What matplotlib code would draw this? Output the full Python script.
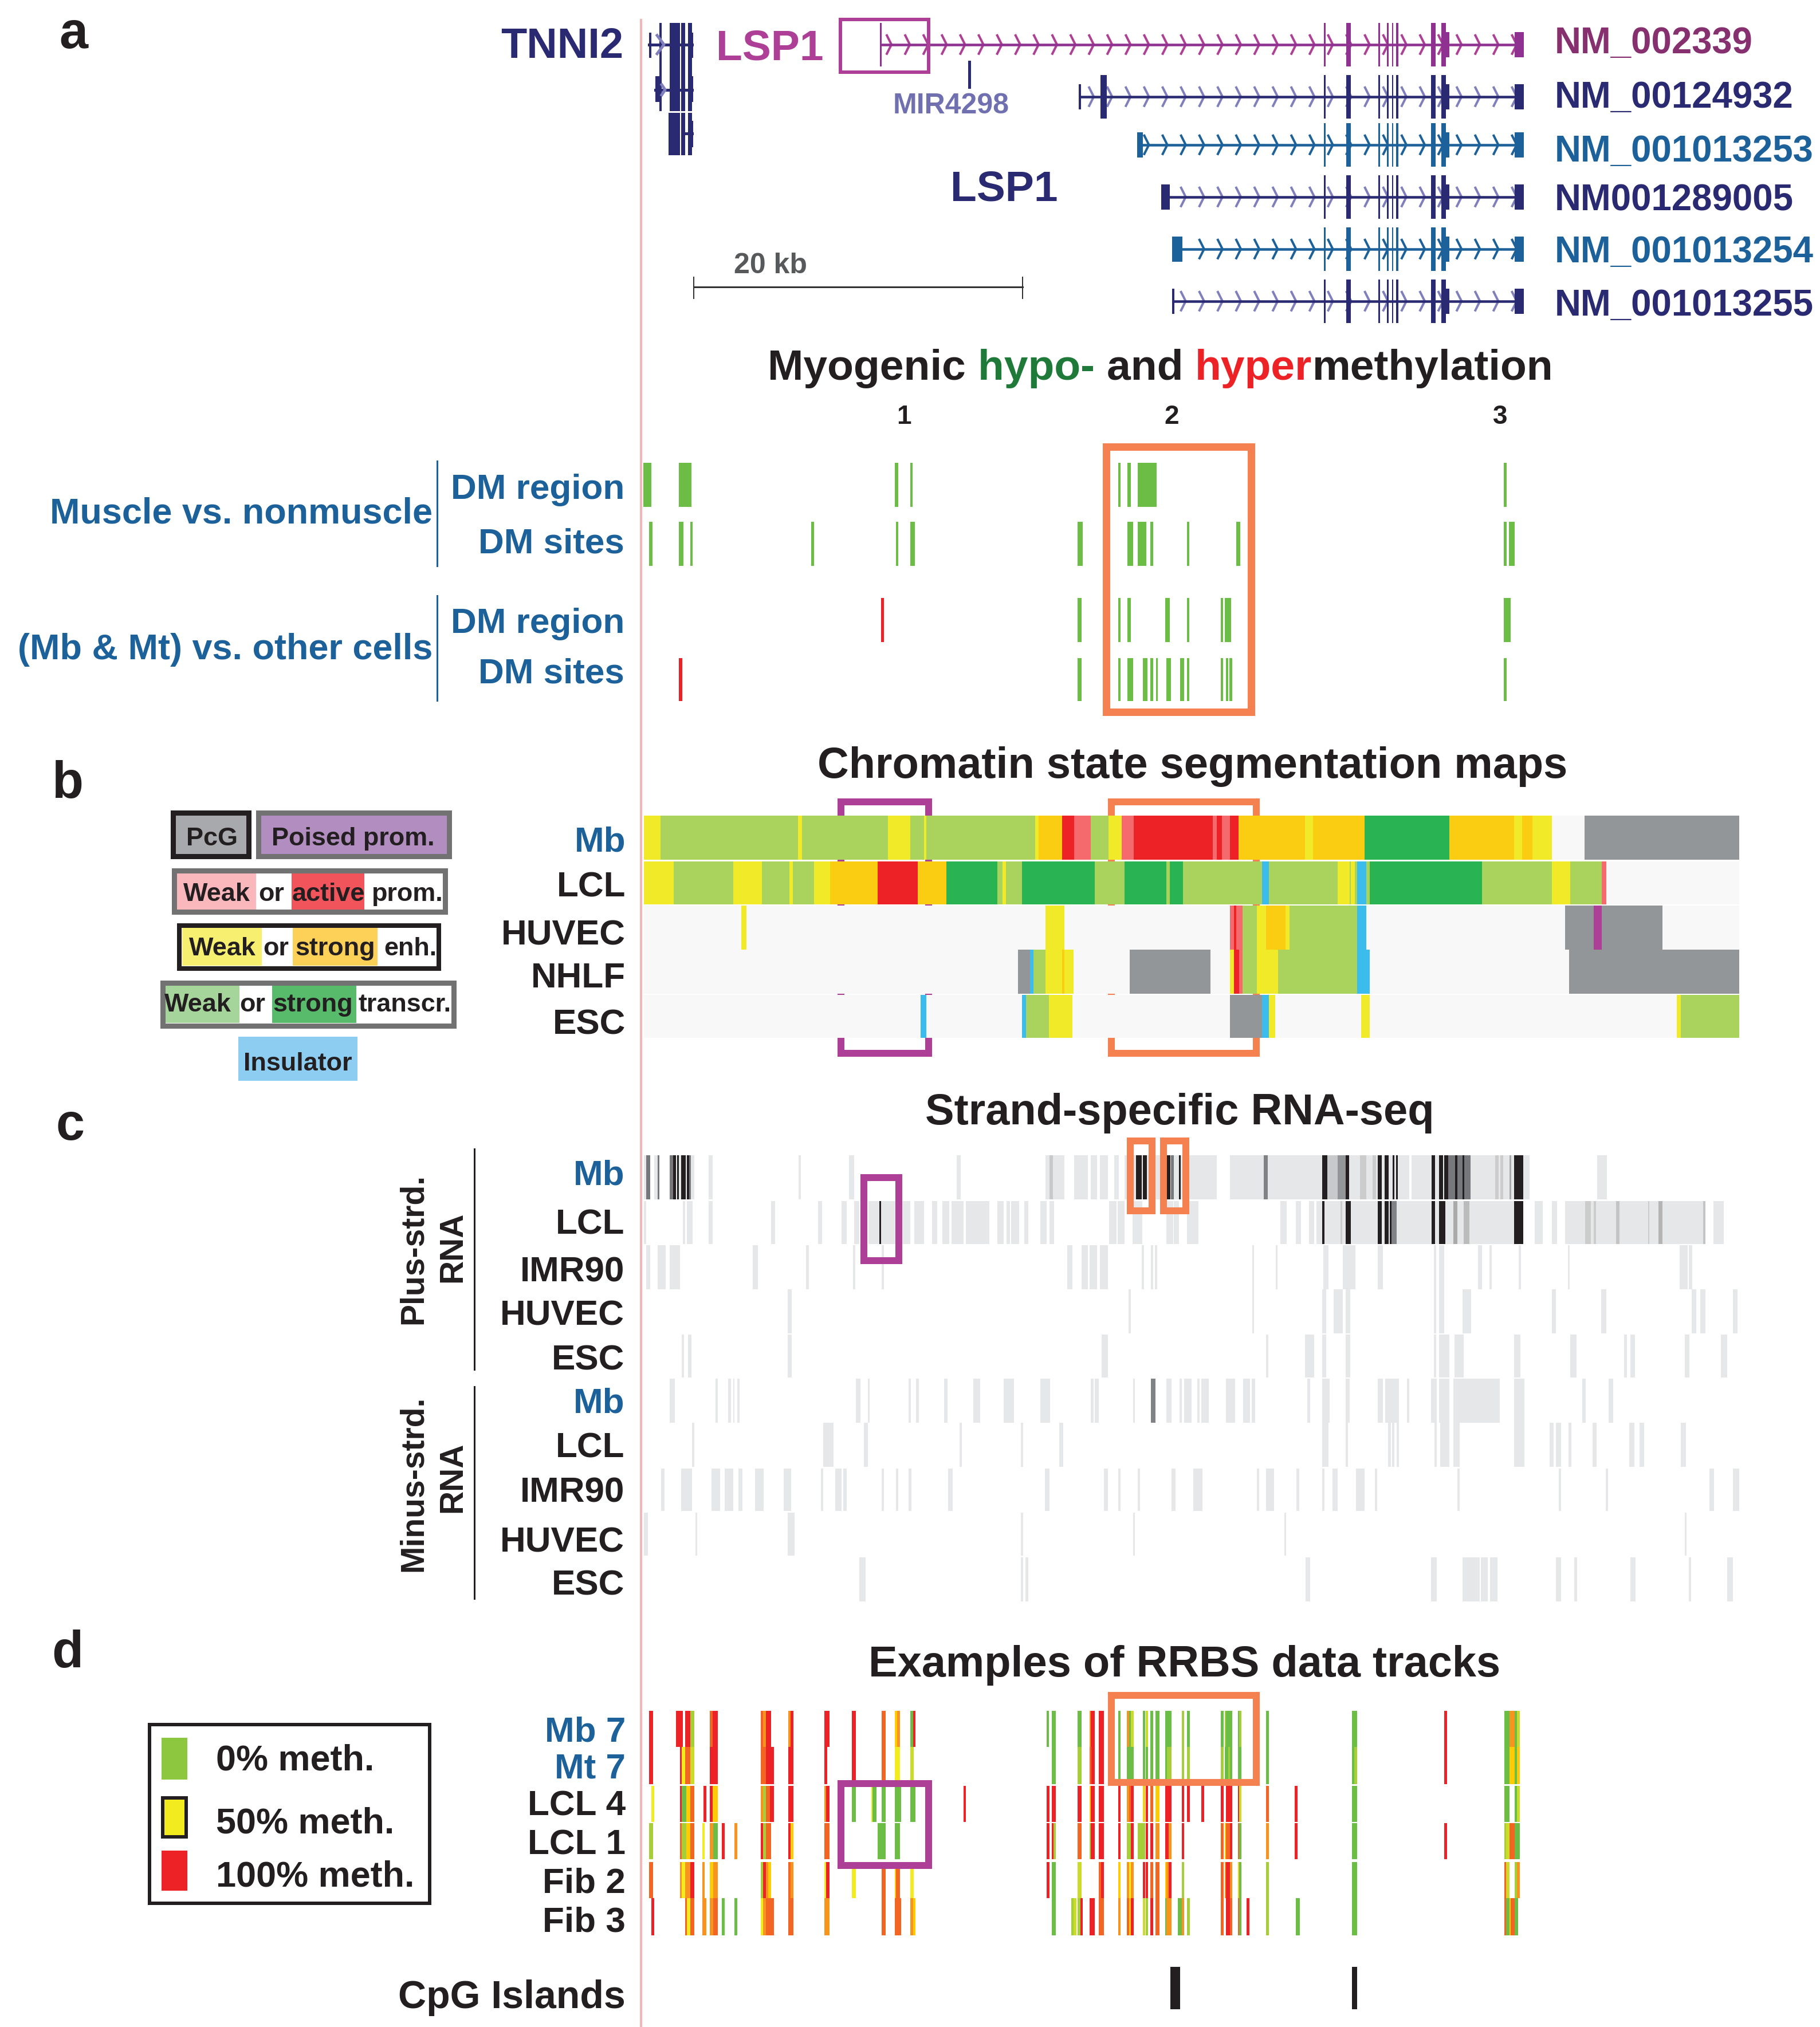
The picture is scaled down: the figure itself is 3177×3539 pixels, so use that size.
import numpy as np
import matplotlib
matplotlib.use("Agg")
import matplotlib.pyplot as plt
from matplotlib.patches import Rectangle

plt.rcParams['font.family'] = ['Liberation Sans', 'DejaVu Sans']

NAVY, PURPLE, BLUE, WINE = '#2a2a72', '#ae3f96', '#1c6199', '#86306f'
INK, ORANGE_BOX, GREEN, RED = '#231f20', '#f58050', '#6cbd45', '#ed2227'

# ---------- a: gene models ----------
gene_names = ['NM_002339', 'NM_00124932', 'NM_001013253', 'NM001289005', 'NM_001013254', 'NM_001013255']
gene_colors = [WINE, NAVY, BLUE, NAVY, BLUE, NAVY]
gene_line = ['#8f3190', NAVY, BLUE, NAVY, BLUE, NAVY]
gene_chev = [PURPLE, '#7f7fbd', BLUE, '#7f7fbd', BLUE, '#7f7fbd']
gene_mid = [78, 169, 253, 344, 435, 526]
gene_label_y = [70, 165, 259, 345, 435, 528]
gene_start = [(1536, 1539), (1883, 1887), (1985, 1995), (2027, 2042), (2046, 2064), (2046, 2050)]
gene_extra = [None, (1921, 1932), None, None, None, None]
shared_exons = [(2311, 2314), (2350, 2358), (2406, 2409), (2421, 2424), (2430, 2432), (2437, 2441), (2498, 2506), (2516, 2524)]
shared_utr = [(2516, 2530), (2644, 2660)]

tnni2_a = [(1151, 1155), (1169, 1187), (1189, 1196), (1201, 1208)]
tnni2_c = [(1167, 1187), (1189, 1196), (1201, 1208)]

# ---------- a: differential methylation ----------
dm_muscle_region = [(1123, 1137), (1185, 1207), (1562, 1568), (1589, 1593), (1952, 1956), (1968, 1974), (1986, 2019), (2625, 2630)]
dm_muscle_sites = [(1133, 1139), (1185, 1193), (1205, 1209), (1416, 1421), (1564, 1568), (1589, 1597), (1881, 1890),
                   (1968, 1978), (1986, 2001), (2008, 2013), (2072, 2076), (2158, 2165), (2625, 2630), (2634, 2644)]
dm_cells_region = [(1881, 1888), (1952, 1956), (1968, 1974), (2034, 2042), (2072, 2076), (2131, 2135), (2138, 2149), (2625, 2637)]
dm_cells_region_hyper = [(1538, 1543)]
dm_cells_sites = [(1881, 1888), (1952, 1956), (1968, 1978), (1995, 2003), (2008, 2013), (2018, 2021), (2036, 2044),
                  (2060, 2067), (2072, 2076), (2131, 2135), (2140, 2144), (2146, 2151), (2625, 2630)]
dm_cells_sites_hyper = [(1185, 1191)]

# ---------- b: chromatin states ----------
state_colors = {'Y': '#f0ea28', 'G': '#aad35d', 'O': '#facd12', 'R': '#ed2227', 'P': '#f46a6d', 'D': '#2ab352',
                'K': '#939699', 'B': '#3bbced', 'E': '#f8f8f8', 'M': '#ae3f96'}
mb_edges = [1124, 1153, 1393, 1400, 1550, 1589, 1613, 1617, 1807, 1813, 1854, 1875, 1904, 1935, 1958, 1979, 2117, 2124, 2133,
            2147, 2162, 2278, 2292, 2382, 2530, 2643, 2657, 2675, 2709, 2766, 3036]
mb_states = list('YGYGYGYGYORPGYPRPRPROYODOYOYEK')
lcl_edges = [1124, 1176, 1280, 1330, 1378, 1384, 1421, 1449, 1532, 1602, 1652, 1741, 1750, 1756, 1784, 1911, 1963, 2036, 2042,
             2065, 2203, 2215, 2335, 2356, 2358, 2365, 2369, 2385, 2391, 2587, 2709, 2741, 2796, 2804, 3036]
lcl_states = list('YGYGYGYORODGYGDGDGDGBGYGYGBGDGYGPE')
huvec_spans = [(1294, 1303, 'Y'), (1825, 1858, 'Y'), (2147, 2154, 'P'), (2154, 2158, 'R'), (2158, 2169, 'P'), (2169, 2194, 'G'),
               (2194, 2210, 'Y'), (2210, 2244, 'O'), (2244, 2251, 'Y'), (2251, 2369, 'G'), (2369, 2385, 'B'),
               (2732, 2782, 'K'), (2782, 2796, 'M'), (2796, 2902, 'K')]
nhlf_spans = [(1777, 1798, 'K'), (1798, 1804, 'B'), (1804, 1825, 'G'), (1825, 1854, 'Y'), (1854, 1858, 'O'), (1858, 1874, 'Y'),
              (1972, 2113, 'K'), (2147, 2154, 'Y'), (2154, 2163, 'R'), (2163, 2169, 'P'), (2169, 2194, 'G'), (2194, 2231, 'Y'),
              (2231, 2369, 'G'), (2369, 2391, 'B'), (2739, 3036, 'K')]
esc_spans = [(1607, 1617, 'B'), (1784, 1791, 'B'), (1791, 1831, 'G'), (1831, 1872, 'Y'), (2147, 2203, 'K'), (2203, 2215, 'B'),
             (2215, 2226, 'Y'), (2376, 2391, 'Y'), (2927, 2934, 'Y'), (2934, 3036, 'G')]

# ---------- c: RNA-seq, plus strand ----------
LIGHT = '#e6e7e8'
mbp_light = [(1124, 1135), (1142, 1151), (1169, 1212), (1237, 1244), (1394, 1398), (1482, 1491), (1670, 1677), (1825, 1858),
             (1875, 1899), (1904, 1915), (1920, 1934), (1945, 1953), (1963, 1974), (1977, 2124), (2147, 2460), (2464, 2670), (2788, 2805)]
mbp_mid = [(1128, 1135, '#77787b'), (1148, 1151, '#77787b'), (1169, 1175, '#77787b'), (1199, 1206, '#77787b'), (1832, 1838, '#c8c9cb'),
           (2044, 2049, '#77787b'), (2206, 2213, '#808285'), (2317, 2335, '#c8c9cb'), (2335, 2349, '#939598'), (2374, 2385, '#cccccc'),
           (2396, 2402, '#cccccc'), (2528, 2567, '#77787b'), (2610, 2616, '#cccccc'), (2619, 2624, '#cccccc'), (2635, 2638, '#aaaaaa')]
mbp_dark = [(1175, 1180), (1182, 1185), (1189, 1197), (1199, 1203), (1983, 1993), (1995, 2002), (2036, 2043), (2058, 2061), (2308, 2317),
            (2349, 2355), (2405, 2412), (2417, 2424), (2431, 2434), (2437, 2440), (2499, 2505), (2512, 2519), (2521, 2528), (2540, 2544),
            (2553, 2556), (2643, 2659)]
lclp_light = [(1124, 1128), (1192, 1196), (1199, 1209), (1237, 1244), (1346, 1353), (1428, 1435), (1469, 1478), (1491, 1500), (1516, 1589),
              (1596, 1613), (1627, 1636), (1645, 1657), (1661, 1682), (1686, 1727), (1741, 1752), (1757, 1763), (1765, 1779), (1788, 1795),
              (1816, 1827), (1832, 1840), (1936, 1949), (1951, 1963), (1977, 1994), (2036, 2048), (2049, 2058), (2072, 2092), (2235, 2246),
              (2262, 2271), (2285, 2294), (2298, 2659), (2679, 2693), (2709, 2718), (2732, 2977), (2991, 3009)]
lclp_mid = [(2340, 2343, '#cccccc'), (2426, 2438, '#808285'), (2537, 2544, '#aaaaaa'), (2555, 2565, '#bbbbbb'), (2767, 2777, '#cccccc'),
            (2782, 2786, '#cccccc'), (2821, 2827, '#c4c4c4'), (2877, 2879, '#cccccc'), (2895, 2902, '#b5b5b5'), (2973, 2977, '#c4c4c4')]
lclp_dark = [(1535, 1538), (2308, 2312), (2349, 2358), (2405, 2412), (2417, 2424), (2426, 2429), (2499, 2505), (2512, 2523), (2643, 2659)]
imrp_light = [(1128, 1135), (1148, 1162), (1169, 1187), (1314, 1323), (1407, 1412), (1489, 1493), (1539, 1543), (1863, 1872), (1888, 1899),
              (1902, 1915), (1920, 1934), (1993, 1997), (2009, 2013), (2016, 2020), (2186, 2189), (2227, 2230), (2310, 2319), (2344, 2366),
              (2405, 2414), (2503, 2507), (2512, 2521), (2580, 2587), (2600, 2604), (2651, 2655), (2737, 2740), (2932, 2946), (2948, 2954)]
huvp_light = [(1375, 1382), (1970, 1974), (2186, 2189), (2308, 2315), (2328, 2344), (2349, 2357), (2503, 2507), (2512, 2521), (2553, 2568),
              (2709, 2716), (2795, 2804), (2953, 2961), (2968, 2977), (3025, 3033)]
escp_light = [(1190, 1194), (1201, 1207), (1375, 1382), (1923, 1934), (2210, 2214), (2278, 2294), (2308, 2315), (2349, 2357), (2503, 2507),
              (2512, 2530), (2539, 2555), (2643, 2654), (2741, 2752), (2835, 2840), (2846, 2854), (2941, 2949), (3004, 3015)]

# ---------- c: RNA-seq, minus strand ----------
mbm_light = [(1169, 1178), (1249, 1253), (1271, 1276), (1280, 1282), (1287, 1291), (1494, 1502), (1515, 1518), (1586, 1590), (1599, 1604),
             (1648, 1654), (1699, 1711), (1752, 1770), (1816, 1833), (1904, 1909), (1911, 1918), (1978, 1981), (2036, 2045), (2059, 2063),
             (2067, 2080), (2090, 2094), (2097, 2110), (2140, 2156), (2170, 2182), (2185, 2191), (2282, 2287), (2308, 2321), (2349, 2356),
             (2405, 2414), (2418, 2442), (2456, 2460), (2498, 2508), (2512, 2530), (2537, 2618), (2643, 2661), (2762, 2768), (2808, 2816)]
mbm_mid = [(2009, 2017, '#808285')]
lclm_light = [(1208, 1212), (1437, 1455), (1508, 1515), (1675, 1679), (1782, 1786), (1849, 1856), (2308, 2319), (2349, 2353), (2423, 2428),
              (2430, 2434), (2438, 2442), (2504, 2508), (2514, 2530), (2537, 2548), (2643, 2661), (2705, 2712), (2716, 2725), (2738, 2743),
              (2780, 2787), (2844, 2853), (2862, 2870), (2934, 2943)]
imrm_light = [(1154, 1160), (1189, 1208), (1242, 1257), (1265, 1280), (1289, 1296), (1318, 1333), (1368, 1381), (1433, 1437), (1458, 1469),
              (1472, 1478), (1539, 1543), (1564, 1568), (1586, 1591), (1655, 1663), (1824, 1832), (1927, 1934), (1952, 1956), (1986, 1990),
              (2045, 2052), (2083, 2099), (2194, 2198), (2210, 2224), (2263, 2268), (2308, 2312), (2326, 2335), (2367, 2382), (2400, 2404),
              (2544, 2548), (2721, 2725), (2803, 2807), (2984, 2992), (3025, 3036)]
huvm_light = [(1124, 1131), (1214, 1217), (1375, 1387), (1782, 1786), (1978, 1981), (2242, 2245), (2941, 2944)]
escm_light = [(1500, 1511), (1782, 1786), (1790, 1795), (2279, 2287), (2498, 2508), (2553, 2583), (2585, 2597), (2601, 2614), (2716, 2725),
              (2748, 2753), (2846, 2855), (2948, 2952), (3015, 3025)]

# ---------- d: RRBS, (start, end, level) on two read-off scales, split at x = 2000 ----------
meth_colors = {'r': '#ed2227', 'o': '#f26522', 'a': '#f7941d', 'u': '#ffcb05', 'y': '#f1eb1f', 'c': '#cbdb2a', 'l': '#a6ce39', 'g': '#6cbd45'}
mb7_left = [(51, 62, 'r'), (125, 144, 'r'), (151, 165, 'r'), (165, 176, 'l'), (218, 225, 'o'), (225, 240, 'r'), (357, 364, 'o'), (364, 372, 'a'),
            (372, 385, 'r'), (432, 439, 'a'), (439, 446, 'r'), (532, 546, 'r'), (606, 617, 'r'), (688, 699, 'o'), (724, 731, 'u'), (731, 738, 'a'),
            (767, 774, 'g'), (774, 780, 'r'), (1140, 1146, 'g'), (1154, 1165, 'g'), (1225, 1236, 'g'), (1258, 1260, 'a'), (1260, 1272, 'r'),
            (1283, 1297, 'r'), (1335, 1342, 'g'), (1360, 1365, 'a'), (1365, 1370, 'g'), (1370, 1378, 'c'), (1403, 1410, 'g')]
mb7_right = [(0, 8, 'c'), (16, 25, 'g'), (34, 47, 'g'), (66, 87, 'g'), (123, 132, 'l'), (141, 150, 'g'), (257, 266, 'g'), (270, 274, 'l'),
             (274, 296, 'g'), (315, 319, 'g'), (319, 327, 'l'), (412, 421, 'g'), (706, 723, 'g'), (1021, 1030, 'r'), (1226, 1245, 'g'),
             (1245, 1261, 'a'), (1261, 1270, 'g'), (1270, 1279, 'c')]
mt7_left = [(51, 62, 'r'), (136, 141, 'r'), (141, 151, 'y'), (151, 165, 'o'), (165, 176, 'c'), (218, 240, 'r'), (357, 372, 'o'), (372, 393, 'r'),
            (432, 446, 'r'), (532, 539, 'r'), (606, 617, 'r'), (688, 699, 'o'), (724, 738, 'y'), (767, 776, 'c'), (1154, 1165, 'g'), (1225, 1236, 'l'),
            (1258, 1262, 'o'), (1262, 1272, 'r'), (1283, 1297, 'r'), (1335, 1342, 'g'), (1360, 1378, 'g'), (1403, 1410, 'g')]
mt7_right = [(0, 8, 'g'), (16, 25, 'g'), (34, 47, 'g'), (66, 73, 'g'), (73, 87, 'l'), (123, 132, 'l'), (141, 150, 'l'), (257, 266, 'l'),
             (270, 282, 'g'), (282, 288, 'l'), (288, 296, 'g'), (315, 327, 'g'), (412, 421, 'g'), (706, 714, 'g'), (714, 723, 'l'), (1021, 1030, 'r'),
             (1226, 1245, 'g'), (1245, 1261, 'u'), (1261, 1270, 'g'), (1270, 1279, 'u')]
lcl4_left = [(58, 65, 'y'), (136, 141, 'r'), (141, 154, 'g'), (154, 165, 'u'), (165, 176, 'o'), (201, 208, 'r'), (218, 226, 'r'), (226, 240, 'u'),
             (357, 364, 'a'), (364, 372, 'l'), (372, 382, 'o'), (382, 393, 'r'), (432, 446, 'r'), (532, 536, 'a'), (536, 546, 'r'), (606, 617, 'g'),
             (660, 663, 'y'), (663, 674, 'g'), (688, 699, 'g'), (724, 742, 'g'), (767, 781, 'g'), (912, 919, 'r'), (1140, 1147, 'r'), (1154, 1165, 'r'),
             (1225, 1236, 'r'), (1258, 1261, 'u'), (1261, 1272, 'r'), (1283, 1297, 'r'), (1335, 1342, 'r'), (1360, 1365, 'a'), (1365, 1370, 'o'),
             (1370, 1378, 'r'), (1403, 1410, 'u')]
lcl4_right = [(0, 8, 'r'), (16, 25, 'o'), (34, 47, 'u'), (66, 87, 'r'), (123, 132, 'r'), (141, 150, 'r'), (189, 199, 'r'), (257, 266, 'r'),
              (274, 296, 'r'), (315, 319, 'r'), (319, 327, 'c'), (412, 421, 'o'), (510, 519, 'r'), (706, 723, 'g'), (1226, 1245, 'g'), (1261, 1270, 'g'),
              (1270, 1279, 'c')]
lcl1_left = [(51, 62, 'l'), (136, 141, 'o'), (141, 154, 'l'), (154, 165, 'u'), (165, 176, 'o'), (197, 204, 'y'), (218, 228, 'a'), (228, 240, 'g'),
             (250, 258, 'r'), (285, 293, 'a'), (357, 364, 'r'), (364, 372, 'l'), (372, 386, 'o'), (432, 439, 'r'), (439, 446, 'u'), (532, 546, 'o'),
             (677, 699, 'g'), (724, 738, 'g'), (1140, 1147, 'r'), (1154, 1158, 'r'), (1158, 1165, 'l'), (1225, 1236, 'o'), (1258, 1261, 'l'),
             (1261, 1272, 'r'), (1283, 1297, 'r'), (1335, 1342, 'r'), (1360, 1370, 'l'), (1370, 1378, 'r'), (1389, 1410, 'l')]
lcl1_right = [(0, 8, 'r'), (16, 25, 'r'), (34, 47, 'a'), (66, 78, 'r'), (78, 87, 'a'), (123, 132, 'r'), (257, 266, 'o'), (270, 274, 'u'),
              (274, 288, 'o'), (288, 296, 'r'), (315, 319, 'o'), (319, 327, 'g'), (412, 421, 'a'), (510, 519, 'r'), (706, 723, 'g'), (1021, 1030, 'r'),
              (1226, 1232, 'l'), (1232, 1245, 'c'), (1245, 1261, 'o'), (1261, 1279, 'g')]
fib2_left = [(51, 62, 'o'), (136, 141, 'a'), (141, 151, 'y'), (151, 165, 'a'), (165, 176, 'r'), (197, 204, 'a'), (218, 228, 'u'), (228, 240, 'a'),
             (357, 364, 'l'), (364, 372, 'r'), (372, 378, 'a'), (378, 386, 'u'), (432, 439, 'o'), (439, 446, 'a'), (532, 536, 'y'), (536, 546, 'r'),
             (606, 617, 'y'), (688, 699, 'o'), (724, 728, 'u'), (728, 738, 'o'), (767, 776, 'y'), (1140, 1147, 'r'), (1154, 1165, 'g'), (1225, 1236, 'c'),
             (1283, 1288, 'o'), (1288, 1297, 'r'), (1335, 1342, 'u'), (1360, 1365, 'a'), (1365, 1370, 'y'), (1370, 1378, 'a'), (1403, 1410, 'r')]
fib2_right = [(0, 8, 'r'), (16, 25, 'o'), (34, 47, 'o'), (66, 71, 'u'), (71, 78, 'a'), (78, 87, 'r'), (123, 132, 'l'), (257, 266, 'o'), (270, 274, 'a'),
              (274, 288, 'r'), (288, 296, 'a'), (315, 319, 'u'), (319, 327, 'g'), (412, 421, 'l'), (706, 723, 'g'), (1226, 1232, 'o'), (1232, 1245, 'c'),
              (1261, 1270, 'l'), (1270, 1279, 'a')]
fib3_left = [(58, 65, 'r'), (151, 155, 'o'), (155, 165, 'y'), (165, 176, 'o'), (197, 208, 'a'), (218, 228, 'a'), (228, 240, 'o'), (250, 258, 'g'),
             (285, 293, 'g'), (357, 364, 'y'), (364, 372, 'a'), (372, 393, 'o'), (432, 446, 'o'), (532, 546, 'a'), (688, 699, 'o'), (724, 742, 'o'),
             (767, 774, 'a'), (774, 781, 'u'), (1154, 1165, 'g'), (1207, 1214, 'l'), (1214, 1221, 'c'), (1225, 1232, 'l'), (1232, 1239, 'r'),
             (1258, 1272, 'r'), (1283, 1297, 'o'), (1335, 1342, 'a'), (1360, 1365, 'o'), (1365, 1370, 'u'), (1370, 1378, 'r'), (1403, 1410, 'c')]
fib3_right = [(0, 8, 'l'), (16, 25, 'r'), (34, 47, 'o'), (66, 71, 'g'), (71, 87, 'a'), (110, 123, 'g'), (123, 132, 'a'), (141, 150, 'l'),
              (257, 266, 'o'), (274, 288, 'r'), (288, 296, 'o'), (315, 319, 'o'), (319, 327, 'g'), (345, 354, 'r'), (412, 421, 'l'), (514, 527, 'g'),
              (706, 723, 'g'), (1226, 1232, 'o'), (1232, 1245, 'g'), (1245, 1249, 'u'), (1249, 1261, 'o'), (1261, 1274, 'g')]
cpg_islands = [(2043, 2060), (2360, 2369)]

rrbs_names = ['Mb 7', 'Mt 7', 'LCL 4', 'LCL 1', 'Fib 2', 'Fib 3']
rrbs_left = [mb7_left, mt7_left, lcl4_left, lcl1_left, fib2_left, fib3_left]
rrbs_right = [mb7_right, mt7_right, lcl4_right, lcl1_right, fib2_right, fib3_right]

# ---------- figure: one axes whose units are reference pixels ----------
W, H = 3177, 3539
fig = plt.figure(figsize=((W + 0.2) / 100, (H + 0.2) / 100), dpi=100)
ax = fig.add_axes([0, 0, 1, 1])
ax.set_xlim(0, W)
ax.set_ylim(H, 0)
ax.axis('off')
PX = 0.72


def bars(spans, y0, y1, color, z=2):
    ax.broken_barh([(a, b - a) for a, b in spans], (y0, y1 - y0), facecolors=color, edgecolor='none', zorder=z)


def bars3(spans, y0, y1, cmap=None, z=3):
    ax.broken_barh([(a, b - a) for a, b, _ in spans], (y0, y1 - y0),
                   facecolors=[cmap[c] if cmap else c for _, _, c in spans], edgecolor='none', zorder=z)


def label(x, yc, s, size=62, color=INK, ha='right', rot=0, weight='bold', z=8):
    if rot:
        return ax.text(x, yc, s, fontsize=size * PX, color=color, ha='center', va='center', rotation=rot, fontweight=weight, zorder=z)
    return ax.text(x, yc + 0.358 * size, s, fontsize=size * PX, color=color, ha=ha, va='baseline', fontweight=weight, zorder=z)


def box(x0, y0, x1, y1, color, lw, z=6, fill='none'):
    ax.add_patch(Rectangle((x0, y0), x1 - x0, y1 - y0, facecolor=fill, edgecolor=color, lw=lw * PX, joinstyle='miter', zorder=z))


def rich(x, yc, parts, size=75):
    r = fig.canvas.get_renderer()
    for s, c in parts:
        t = label(x, yc, s, size, c, ha='left')
        x += t.get_window_extent(r).width


# pink guide line
ax.plot([1119, 1119], [33, H], color='#f9b4b8', lw=4 * PX, solid_capstyle='butt', zorder=1)

# panel letters
for s, x, y in [('a', 128, 52), ('b', 118, 1361), ('c', 122, 1958), ('d', 118, 2879)]:
    label(x, y, s, 90, INK, ha='center')

# TNNI2
bars(tnni2_a, 40, 117, NAVY)
bars(tnni2_a, 134, 194, NAVY)
bars(tnni2_a[1:], 117, 134, NAVY)
bars(tnni2_a[:1], 117, 134, NAVY)
bars(tnni2_c, 197, 271, NAVY)
bars([(1133, 1137)], 57, 101, NAVY)
bars([(1144, 1155)], 133, 178, NAVY)
bars([(1208, 1210)], 57, 101, NAVY)
bars([(1208, 1210)], 133, 178, NAVY)
bars([(1208, 1210)], 211, 257, NAVY)
ax.plot([1133, 1208], [78, 78], color=NAVY, lw=5 * PX, zorder=2)
ax.plot([1144, 1208], [157, 157], color=NAVY, lw=5 * PX, zorder=2)
ax.plot([1196, 1208], [233, 233], color=NAVY, lw=5 * PX, zorder=2)
ax.plot([1147, 1159, 1147], [62, 78, 94], color='#7f7fbd', lw=5 * PX, zorder=3)
ax.plot([1155, 1161, 1155], [148, 157, 166], color='#7f7fbd', lw=5 * PX, zorder=3)
label(1088, 75, 'TNNI2', 74, NAVY)
label(1250, 78, 'LSP1', 75, PURPLE, ha='left')
label(1659, 324, 'LSP1', 75, NAVY, ha='left')
label(1559, 180, 'MIR4298', 50, '#7070b0', ha='left')
ax.plot([1692, 1692], [108, 152], color=NAVY, lw=5 * PX, zorder=3)
box(1467, 34, 1621, 126, PURPLE, 6)

# LSP1 transcripts
chev_grid = np.arange(1552, 2650, 32.1)
for i, name in enumerate(gene_names):
    y = gene_mid[i]
    st = gene_start[i]
    ax.plot([st[0], 2650], [y, y], color=gene_line[i], lw=4.5 * PX, solid_capstyle='butt', zorder=3)
    for cx in chev_grid[chev_grid > st[1] + 3]:
        ax.plot([cx - 4, cx + 4, cx - 4], [y - 16, y, y + 16], color=gene_chev[i], lw=4 * PX, zorder=2)
    bars(shared_exons, y - 38, y + 38, gene_line[i], z=4)
    bars(shared_utr, y - 22, y + 22, gene_line[i], z=4)
    if i == 0:
        bars([st], y - 38, y + 38, gene_line[i], z=4)
    else:
        bars([st], y - 22, y + 22, gene_line[i], z=4)
    if gene_extra[i]:
        bars([gene_extra[i]], y - 38, y + 38, gene_line[i], z=4)
    label(2714, gene_label_y[i], name, 63.5, gene_colors[i], ha='left')

# scale bar
ax.plot([1211, 1785], [501, 501], color='#333333', lw=3 * PX, zorder=3)
ax.plot([1211, 1211], [484, 521], color='#333333', lw=2 * PX, zorder=3)
ax.plot([1785, 1785], [484, 521], color='#333333', lw=2 * PX, zorder=3)
label(1345, 459, '20 kb', 50, '#58595b', ha='center')

# DM tracks
rich(1340, 636, [('Myogenic ', INK), ('hypo- ', '#1f7a3a'), ('and ', INK), ('hyper', RED), ('methylation', INK)])
for s, x in [('1', 1578), ('2', 2045), ('3', 2619)]:
    label(x, 723, s, 46, INK, ha='center')
bars(dm_muscle_region, 808, 885, GREEN)
bars(dm_muscle_sites, 911, 988, GREEN)
bars(dm_cells_region, 1044, 1121, GREEN)
bars(dm_cells_region_hyper, 1044, 1121, RED)
bars(dm_cells_sites, 1149, 1224, GREEN)
bars(dm_cells_sites_hyper, 1149, 1224, RED)
box(1931, 780, 2184, 1243, ORANGE_BOX, 13)
for s, y in [('DM region', 849), ('DM sites', 943), ('DM region', 1083), ('DM sites', 1170)]:
    label(1090, y, s, 62, BLUE)
label(755, 891, 'Muscle vs. nonmuscle', 63, BLUE)
label(755, 1128, '(Mb & Mt) vs. other cells', 63, BLUE)
ax.plot([763, 763], [805, 988], color=BLUE, lw=3 * PX, zorder=3)
ax.plot([763, 763], [1040, 1223], color=BLUE, lw=3 * PX, zorder=3)

# Chromatin states
label(2081, 1331, 'Chromatin state segmentation maps', 75.8, INK, ha='center')
box(1468, 1400, 1621, 1839, PURPLE, 12, z=1)
box(1940, 1400, 2193, 1839, ORANGE_BOX, 12, z=1)
chrom_rows = [(1424, 1501), (1504, 1579), (1581, 1658), (1658, 1735), (1737, 1812)]
for row, (e, s) in zip(chrom_rows[:2], [(mb_edges, mb_states), (lcl_edges, lcl_states)]):
    ax.broken_barh([(e[i], e[i + 1] - e[i]) for i in range(len(s))], (row[0], row[1] - row[0]),
                   facecolors=[state_colors[c] for c in s], edgecolor='none', zorder=2)
for row, sp in zip(chrom_rows[2:], [huvec_spans, nhlf_spans, esc_spans]):
    bars([(1124, 3036)], row[0], row[1], state_colors['E'])
    bars3(sp, row[0], row[1], state_colors)
for s, y, c in [('Mb', 1464, BLUE), ('LCL', 1543, INK), ('HUVEC', 1627, INK), ('NHLF', 1702, INK), ('ESC', 1783, INK)]:
    label(1092, y, s, 62, c)

# Chromatin legend
GB = '#727272'
bars([(298, 438)], 1415, 1499, '#a7a9ac', z=5)
box(302, 1419, 434, 1495, INK, 9)
bars([(447, 788)], 1415, 1499, '#b28dc0', z=5)
box(451, 1419, 784, 1495, GB, 9)
bars([(307, 447)], 1525, 1590, '#fbb8bc', z=5)
bars([(509, 636)], 1525, 1590, '#f2545b', z=5)
box(304, 1520, 777, 1592, GB, 9)
bars([(318, 457)], 1620, 1686, '#f7ef6f', z=5)
bars([(511, 659)], 1620, 1686, '#fdd057', z=5)
box(313, 1616, 766, 1691, INK, 8)
bars([(288, 418)], 1719, 1786, '#a5d59b', z=5)
bars([(475, 622)], 1719, 1786, '#58bb6b', z=5)
box(284, 1716, 792, 1791, GB, 9)
bars([(416, 624)], 1810, 1887, '#8ccdf1', z=5)
for s, x, y in [('PcG', 370, 1460), ('Poised prom.', 616, 1460),
                ('Weak', 378, 1557), ('or', 474, 1557), ('active', 573, 1557), ('prom.', 710, 1557),
                ('Weak', 388, 1652), ('or', 482, 1652), ('strong', 585, 1652), ('enh.', 716, 1652),
                ('Weak', 345, 1750), ('or', 441, 1750), ('strong', 546, 1750), ('transcr.', 707, 1750),
                ('Insulator', 520, 1853)]:
    label(x, y, s, 45, INK, ha='center')

# RNA-seq
label(2059, 1936, 'Strand-specific RNA-seq', 75.8, INK, ha='center')
plus_rows = [(2017, 2094), (2097, 2172), (2174, 2251), (2251, 2328), (2330, 2405)]
minus_rows = [(2407, 2484), (2484, 2561), (2564, 2638), (2641, 2716), (2719, 2796)]
plus_light = [mbp_light, lclp_light, imrp_light, huvp_light, escp_light]
minus_light = [mbm_light, lclm_light, imrm_light, huvm_light, escm_light]
for row, sp in zip(plus_rows + minus_rows, plus_light + minus_light):
    bars(sp, row[0], row[1], LIGHT)
bars3(mbp_mid, *plus_rows[0])
bars(mbp_dark, plus_rows[0][0], plus_rows[0][1], INK, z=4)
bars3(lclp_mid, *plus_rows[1])
bars(lclp_dark, plus_rows[1][0], plus_rows[1][1], INK, z=4)
bars3(mbm_mid, *minus_rows[0])
box(1973, 1992, 2011, 2114, ORANGE_BOX, 12)
box(2031, 1992, 2070, 2114, ORANGE_BOX, 12)
box(1508, 2056, 1569, 2201, PURPLE, 12)
for s, y, c in [('Mb', 2046, BLUE), ('LCL', 2132, INK), ('IMR90', 2215, INK), ('HUVEC', 2291, INK), ('ESC', 2369, INK),
                ('Mb', 2444, BLUE), ('LCL', 2522, INK), ('IMR90', 2600, INK), ('HUVEC', 2687, INK), ('ESC', 2762, INK)]:
    label(1090, y, s, 62, c)
ax.plot([828, 828], [2006, 2391], color=INK, lw=3 * PX, zorder=3)
ax.plot([828, 828], [2421, 2791], color=INK, lw=3 * PX, zorder=3)
label(722, 2180, 'Plus-strd.', 57, rot=90)
label(790, 2177, 'RNA', 57, rot=90)
label(722, 2590, 'Minus-strd.', 57, rot=90)
label(790, 2579, 'RNA', 57, rot=90)

# RRBS
label(2067, 2900, 'Examples of RRBS data tracks', 75.8, INK, ha='center')
rrbs_rows = [(2987, 3050), (3050, 3115), (3118, 3181), (3183, 3246), (3251, 3314), (3314, 3379)]
for row, left, right in zip(rrbs_rows, rrbs_left, rrbs_right):
    sp = [(1100 + a / 1.568, 1100 + b / 1.568, c) for a, b, c in left] + [(2000 + a / 1.96, 2000 + b / 1.96, c) for a, b, c in right]
    bars3(sp, row[0], row[1], meth_colors)
box(1940, 2960, 2193, 3112, ORANGE_BOX, 12)
box(1468, 3114, 1621, 3257, PURPLE, 12)
bars(cpg_islands, 3434, 3508, INK)
for s, y, c in zip(rrbs_names, [3018, 3082, 3147, 3215, 3282, 3350], [BLUE, BLUE, INK, INK, INK, INK]):
    label(1092, y, s, 62, c)
label(1092, 3481, 'CpG Islands', 68, INK)

# RRBS legend
box(261, 3011, 750, 3323, INK, 6)
bars([(282, 327)], 3034, 3107, '#8dc63f', z=5)
bars([(284, 325)], 3139, 3207, meth_colors['y'], z=5)
box(284, 3139, 325, 3207, INK, 6)
bars([(282, 327)], 3231, 3301, RED, z=5)
for s, y in [('0% meth.', 3068), ('50% meth.', 3178), ('100% meth.', 3271)]:
    label(377, y, s, 63, INK, ha='left')

fig.savefig('out.png', dpi=100, facecolor='white')
